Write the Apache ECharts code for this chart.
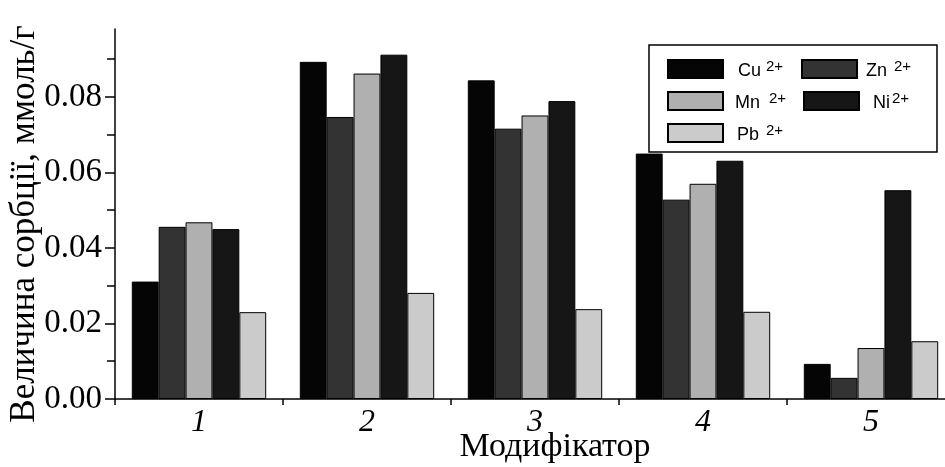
<!DOCTYPE html>
<html>
<head>
<meta charset="utf-8">
<script src="https://cdn.jsdelivr.net/npm/echarts@6/dist/echarts.min.js"></script>
<style>
html,body{margin:0;padding:0;background:#fff;}
#c{width:945px;height:467px;}
</style>
</head>
<body>
<div id="c"></div>
<script>
const categories = ['1', '2', '3', '4', '5'];
const metals = ['Cu', 'Zn', 'Mn', 'Ni', 'Pb'];
const charge = '2+';
const cuValues = [0.0311, 0.0893, 0.0844, 0.0650, 0.0093];
const znValues = [0.0456, 0.0747, 0.0716, 0.0528, 0.0056];
const mnValues = [0.0468, 0.0862, 0.0751, 0.0570, 0.0135];
const niValues = [0.0450, 0.0912, 0.0789, 0.0631, 0.0553];
const pbValues = [0.0230, 0.0281, 0.0238, 0.0231, 0.0153];
const yLabelValues = [0, 0.02, 0.04, 0.06, 0.08];
const yMinorTickValues = [0.01, 0.03, 0.05, 0.07, 0.09];
const yMin = 0;
const yMax = 0.098;
const xTitle = 'Модифікатор';
const yTitle = 'Величина сорбції, ммоль/г';

const seriesValues = [cuValues, znValues, mnValues, niValues, pbValues];
const colors = ['#050505', '#333333', '#b0b0b0', '#161616', '#cbcbcb'];
const names = metals.map(m => m + charge);

const serif = '"Liberation Serif", "Times New Roman", serif';
const sans = '"Liberation Sans", Arial, sans-serif';

// legend layout (positions only)
const legendLayout = [
  {left: 667, top: 59, pad: 10, sup: 5},
  {left: 801, top: 59, pad: 4, sup: 7},
  {left: 667, top: 91, pad: 7, sup: 9},
  {left: 803, top: 91, pad: 9, sup: 2},
  {left: 667, top: 123, pad: 9, sup: 7}
];

const legends = names.map((n, i) => ({
  z: 20,
  data: [n],
  left: legendLayout[i].left,
  top: legendLayout[i].top,
  orient: 'horizontal',
  icon: 'rect',
  itemWidth: 55,
  itemHeight: 18,
  itemGap: 0,
  selectedMode: false,
  padding: 0,
  formatter: function (name) {
    const base = name.replace(charge, '');
    return '{m|' + base + '}{s|' + charge + '}';
  },
  textStyle: {
    color: '#000',
    fontFamily: sans,
    fontSize: 16,
    padding: [4, 0, 0, legendLayout[i].pad],
    rich: {
      m: {fontFamily: sans, fontSize: 18, color: '#000', verticalAlign: 'bottom', lineHeight: 18},
      s: {fontFamily: sans, fontSize: 15, color: '#000', verticalAlign: 'bottom', lineHeight: 15,
          padding: [0, 0, 6, legendLayout[i].sup]}
    }
  }
}));

const axisCommon = {
  type: 'value',
  min: yMin,
  max: yMax,
  position: 'left',
  offset: 0,
  splitLine: {show: false}
};

const chart = echarts.init(document.getElementById('c'), null, {renderer: 'canvas'});
chart.setOption({
  backgroundColor: '#fff',
  animation: false,
  grid: {left: 115, top: 29, width: 840, height: 370, containLabel: false, outerBoundsMode: 'none'},
  legend: legends,
  graphic: [{
    type: 'rect',
    z: 3,
    shape: {x: 649, y: 45, width: 288, height: 107},
    style: {fill: '#fff', stroke: '#000', lineWidth: 1.5}
  }],
  xAxis: {
    type: 'category',
    data: categories,
    boundaryGap: true,
    name: xTitle,
    nameLocation: 'middle',
    nameGap: 31,
    nameMoveOverlap: false,
    nameTextStyle: {fontFamily: serif, fontSize: 34, color: '#000', padding: [0, 0, 0, 40]},
    axisLine: {show: true, lineStyle: {color: '#000', width: 1.5}},
    axisTick: {show: true, inside: false, length: 6, alignWithLabel: false, lineStyle: {color: '#000', width: 1.5}},
    axisLabel: {fontFamily: serif, fontStyle: 'italic', fontSize: 32, color: '#000', margin: 8},
    splitLine: {show: false}
  },
  yAxis: [
    Object.assign({}, axisCommon, {
      name: yTitle,
      nameLocation: 'middle',
      nameRotate: 90,
      nameGap: 73,
      nameMoveOverlap: false,
      nameTextStyle: {fontFamily: serif, fontSize: 35, color: '#000', padding: [0, 20, 0, 0]},
      axisLine: {show: true, lineStyle: {color: '#000', width: 1.5}},
      axisTick: {show: true, inside: false, length: 10, customValues: yLabelValues, lineStyle: {color: '#000', width: 1.5}},
      axisLabel: {
        customValues: yLabelValues,
        fontFamily: serif, fontSize: 33, color: '#000', margin: 13,
        formatter: v => v.toFixed(2)
      }
    }),
    Object.assign({}, axisCommon, {
      axisLine: {show: false},
      axisTick: {show: true, inside: false, length: 8, customValues: yMinorTickValues, lineStyle: {color: '#000', width: 1.5}},
      axisLabel: {show: false}
    })
  ],
  series: names.map((n, i) => ({
    name: n,
    type: 'bar',
    yAxisIndex: 0,
    z: 2,
    data: seriesValues[i],
    barGap: '0%',
    barCategoryGap: '20%',
    itemStyle: {color: colors[i], borderColor: '#000', borderWidth: 1}
  }))
});
</script>
</body>
</html>
